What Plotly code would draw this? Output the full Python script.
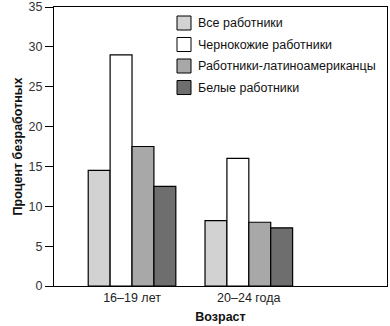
import plotly.graph_objects as go

categories = ["16–19 лет", "20–24 года"]
series_names = ["Все работники", "Чернокожие работники", "Работники-латиноамериканцы", "Белые работники"]
values_all = [14.5, 8.2]
values_black = [29.0, 16.0]
values_hisp = [17.5, 8.0]
values_white = [12.5, 7.3]
colors = ["#d2d2d2", "#ffffff", "#a8a8a8", "#6e6e6e"]

W, H = 390, 326
ML, MR, MT, MB = 54, 3, 7, 40
PW, PH = W - ML - MR, H - MT - MB

fig = go.Figure()
for name, vals, col in zip(series_names, [values_all, values_black, values_hisp, values_white], colors):
    fig.add_trace(go.Bar(x=categories, y=vals, name=name, showlegend=False,
                         marker=dict(color=col, line=dict(color="#000000", width=1.2))))

def px_x(px):
    return (px - ML) / PW

def px_y(py):
    return 1 - (py - MT) / PH

# manual legend
row_centers = [23, 44.5, 66, 87.5]
for name, col, yc in zip(series_names, colors, row_centers):
    fig.add_shape(type="rect", xref="paper", yref="paper",
                  x0=px_x(177), x1=px_x(191), y0=px_y(yc + 7), y1=px_y(yc - 7),
                  fillcolor=col, line=dict(color="#000", width=1))
    fig.add_annotation(text=name, xref="paper", yref="paper", x=px_x(196), y=px_y(yc),
                       xanchor="left", yanchor="middle", showarrow=False,
                       font=dict(size=12.5, color="#111"))

font = "Liberation Sans, Arial, sans-serif"
fig.update_layout(
    width=W, height=H,
    margin=dict(l=ML, r=MR, t=MT, b=MB, autoexpand=False),
    paper_bgcolor="white", plot_bgcolor="white",
    barmode="group", bargap=0.25, bargroupgap=0,
    font=dict(family=font, size=12, color="#222"),
    xaxis=dict(range=[-0.668, 2.183], showline=True, linecolor="#000", linewidth=1.2,
               mirror=True, ticks="", tickfont=dict(size=12.5, color="#222"), automargin=False,
               title=dict(text="<b>Возраст</b>", font=dict(size=12.5, color="#111"), standoff=8)),
    yaxis=dict(range=[0, 35], dtick=5, showline=True, linecolor="#000", linewidth=1.2,
               mirror=True, ticks="outside", ticklen=8, tickcolor="#000", showgrid=False,
               zeroline=False, tickfont=dict(size=12.5, color="#333"), automargin=False,
               title=dict(text="<b>Процент безработных</b>", font=dict(size=12.5, color="#111"), standoff=3)),
)
fig.write_html("out.html")
